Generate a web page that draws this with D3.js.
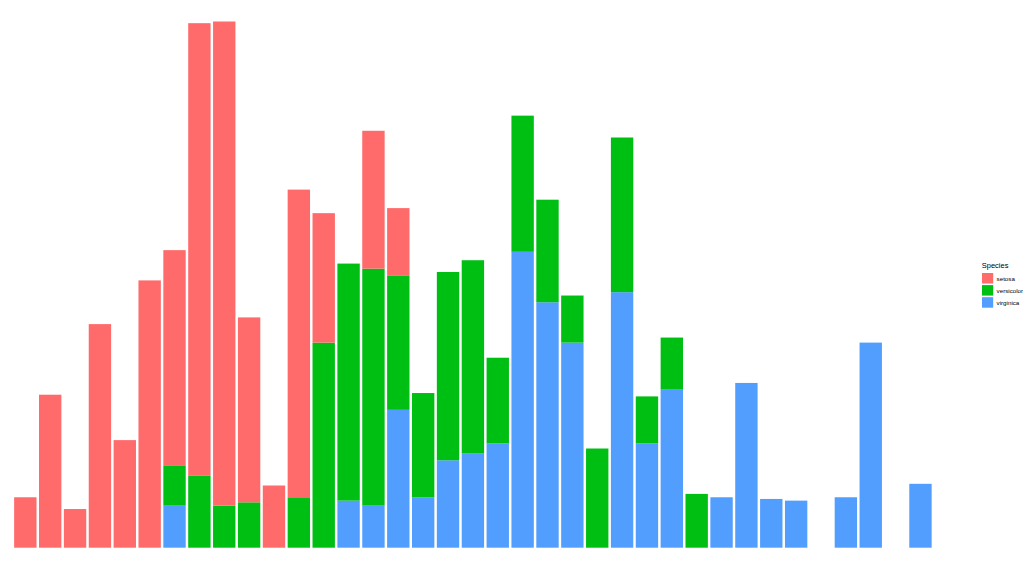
<!DOCTYPE html>
<html>
<head>
<meta charset="utf-8">
<script src="https://cdn.jsdelivr.net/npm/d3@7"></script>
<style>
  html, body { margin: 0; padding: 0; background: #fff; }
  svg { display: block; }
  text { font-family: "Liberation Sans", Arial, sans-serif; }
</style>
</head>
<body>
<svg id="chart" width="1023" height="566"></svg>
<script>
// Sepal.Length values (x categories)
const lengths = [4.3,4.4,4.5,4.6,4.7,4.8,4.9,5.0,5.1,5.2,5.3,5.4,5.5,5.6,5.7,5.8,5.9,6.0,6.1,6.2,6.3,6.4,6.5,6.6,6.7,6.8,6.9,7.0,7.1,7.2,7.3,7.4,7.5,7.6,7.7,7.8,7.9];
const species = ["setosa", "versicolor", "virginica"];
// summed Sepal.Width per Sepal.Length, one array per species (aligned with lengths)
const setosa =     [3.0,9.1,2.3,13.3,6.4,15.9,12.8,26.9,28.8,11.0,3.7,18.3,7.7,0,8.2,4.0,0,0,0,0,0,0,0,0,0,0,0,0,0,0,0,0,0,0,0,0,0];
const versicolor = [0,0,0,0,0,0,2.4,4.3,2.5,2.7,0,3.0,12.2,14.1,14.1,8.0,6.2,11.2,11.5,5.1,8.1,6.1,2.8,5.9,9.2,2.8,3.1,3.2,0,0,0,0,0,0,0,0,0];
const virginica =  [0,0,0,0,0,0,2.5,0,0,0,0,0,0,2.8,2.5,8.2,3.0,5.2,5.6,6.2,17.6,14.6,12.2,0,15.2,6.2,9.4,0,3.0,9.8,2.9,2.8,0,3.0,12.2,0,3.8];
const colors = ["#FF6B6B", "#00BF13", "#529EFF"];

const svg = d3.select("#chart");

const rows = lengths.map((l, i) => ({ x: l, setosa: setosa[i], versicolor: versicolor[i], virginica: virginica[i] }));
// ggplot stacking: first level on top -> stack order virginica (bottom), versicolor, setosa (top)
const stack = d3.stack().keys(["virginica", "versicolor", "setosa"]);
const series = stack(rows);

const maxTotal = d3.max(rows, d => d.setosa + d.versicolor + d.virginica);

const x = d3.scaleLinear().domain([4.25, 7.95]).range([12.9, 932.9]);
const y = d3.scaleLinear().domain([0, maxTotal]).range([547.7, 21.5]);
const color = d3.scaleOrdinal().domain(species).range(colors);
const barW = x(4.3 + 0.09) - x(4.3);

const g = svg.append("g");
g.selectAll("g.series")
  .data(series)
  .join("g")
  .attr("class", "series")
  .attr("fill", d => color(d.key))
  .selectAll("rect")
  .data(d => d.filter(p => p[1] - p[0] > 0))
  .join("rect")
  .attr("x", d => x(d.data.x) - barW / 2)
  .attr("width", barW)
  .attr("y", d => y(d[1]))
  .attr("height", d => y(d[0]) - y(d[1]));

// Legend
const legend = svg.append("g").attr("transform", "translate(982,0)");
legend.append("text")
  .attr("x", -0.3)
  .attr("y", 268)
  .attr("font-size", 7.5)
  .attr("fill", "#000")
  .text("Species");
const items = legend.selectAll("g.item")
  .data(species)
  .join("g")
  .attr("class", "item")
  .attr("transform", (d, i) => `translate(0,${273 + i * 12.1})`);
items.append("rect")
  .attr("width", 11.2)
  .attr("height", 10.5)
  .attr("fill", d => color(d));
items.append("text")
  .attr("x", 14.6)
  .attr("y", 7.5)
  .attr("font-size", 6.2)
  .attr("fill", "#000")
  .text(d => d);
</script>
</body>
</html>
